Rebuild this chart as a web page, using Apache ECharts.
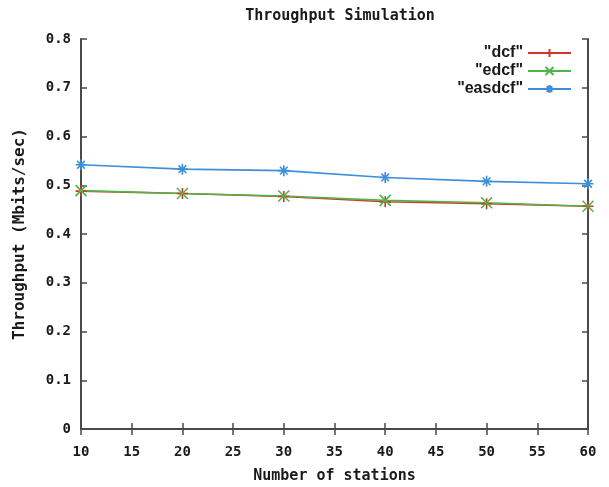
<!DOCTYPE html>
<html>
<head>
<meta charset="utf-8">
<script src="https://cdn.jsdelivr.net/npm/echarts@6/dist/echarts.min.js"></script>
<style>
  html, body { margin: 0; padding: 0; background: #fff; }
  #chart { width: 609px; height: 487px; }
</style>
</head>
<body>
<div id="chart"></div>
<script>
// Number of stations on the x axis
const stations = [10, 20, 30, 40, 50, 60];
// Throughput in Mbits/sec per protocol
const dcf    = [0.488, 0.483, 0.477, 0.466, 0.462, 0.457];
const edcf   = [0.489, 0.483, 0.478, 0.469, 0.464, 0.457];
const easdcf = [0.542, 0.533, 0.530, 0.516, 0.508, 0.503];
const seriesNames = ['"dcf"', '"edcf"', '"easdcf"'];

const FONT = 'DejaVu Sans Mono';
const AXIS_COLOR = '#4a4a4a';

const PLUS  = 'path://M5,0L5,10M0,5L10,5';
const CROSS = 'path://M1,1L9,9M9,1L1,9';
const STAR  = 'path://M5,0L5,10M0,5L10,5M1.5,1.5L8.5,8.5M8.5,1.5L1.5,8.5';

function pairs(ys) { return stations.map((x, i) => [x, ys[i]]); }

function lineSeries(name, ys, color, symbol) {
  return {
    name: name,
    type: 'line',
    data: pairs(ys),
    symbol: symbol,
    symbolSize: 11,
    lineStyle: { color: color, width: 1.6 },
    itemStyle: { color: color, borderColor: color, borderWidth: 1.6 },
    emphasis: { disabled: true },
    animation: false
  };
}

const chart = echarts.init(document.getElementById('chart'), null, { renderer: 'canvas' });

const tickStyle = { fontFamily: FONT, fontWeight: 'bold', fontSize: 14, color: '#1a1a1a' };
const nameStyle = { fontFamily: FONT, fontWeight: 'bold', fontSize: 15, color: '#1a1a1a' };

function axisBase(extra) {
  return Object.assign({
    axisLine: { show: true, lineStyle: { color: AXIS_COLOR, width: 2 } },
    axisTick: { show: true, inside: true, length: 6, lineStyle: { color: AXIS_COLOR, width: 1.5 } },
    splitLine: { show: false }
  }, extra);
}

chart.setOption({
  backgroundColor: '#fff',
  title: {
    text: 'Throughput Simulation',
    left: 335, top: 4, textAlign: 'center',
    textStyle: { fontFamily: FONT, fontWeight: 'bold', fontSize: 15, color: '#1a1a1a' }
  },
  legend: {
    orient: 'vertical',
    right: 37, top: 45,
    padding: 0,
    align: 'right',
    itemWidth: 43, itemHeight: 10, itemGap: 2,
    textStyle: {
      fontFamily: 'Liberation Sans', fontWeight: 'bold', fontSize: 16, color: '#1a1a1a'
    },
    data: seriesNames,
    selectedMode: false
  },
  grid: {
    left: 81, right: 21, top: 39, bottom: 58,
    containLabel: false, outerBoundsMode: 'none'
  },
  xAxis: [
    axisBase({
      type: 'value', min: 10, max: 60, interval: 5,
      name: 'Number of stations', nameLocation: 'middle', nameGap: 40,
      nameTextStyle: nameStyle,
      axisLabel: Object.assign({ margin: 16 }, tickStyle)
    }),
    axisBase({
      type: 'value', min: 10, max: 60, interval: 5, position: 'top',
      axisLabel: { show: false }
    })
  ],
  yAxis: [
    axisBase({
      type: 'value', min: 0, max: 0.8, interval: 0.1,
      name: 'Throughput (Mbits/sec)', nameLocation: 'middle', nameGap: 53, nameRotate: 90,
      nameTextStyle: Object.assign({}, nameStyle, { fontSize: 16 }),
      axisLabel: Object.assign({ margin: 10 }, tickStyle)
    }),
    axisBase({
      type: 'value', min: 0, max: 0.8, interval: 0.1, position: 'right',
      axisLabel: { show: false }
    })
  ],
  series: [
    lineSeries(seriesNames[0], dcf, '#d8352a', PLUS),
    lineSeries(seriesNames[1], edcf, '#4fb548', CROSS),
    lineSeries(seriesNames[2], easdcf, '#3d8fdb', STAR)
  ]
});
</script>
</body>
</html>
